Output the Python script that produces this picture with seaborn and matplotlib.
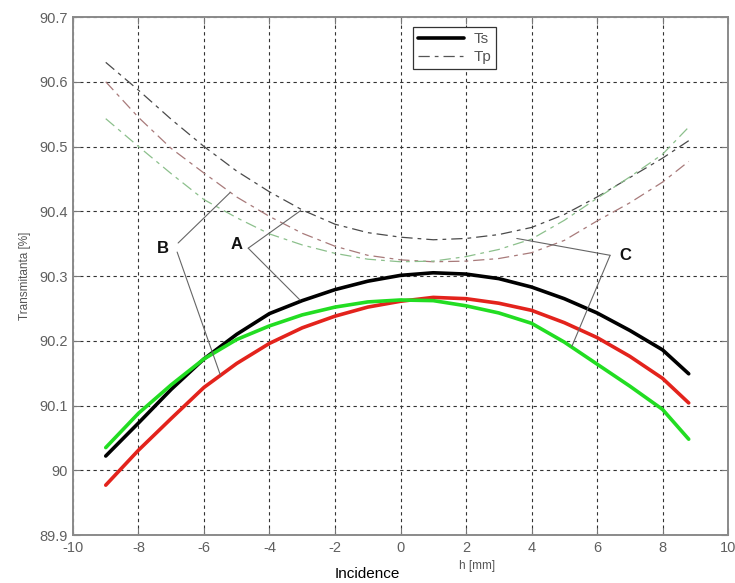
import matplotlib
matplotlib.use("Agg")
import matplotlib.pyplot as plt
from matplotlib.lines import Line2D
import seaborn as sns
import pandas as pd

# ---------------- data ----------------
h_mm = [-9, -8, -7, -6, -5, -4, -3, -2, -1, 0, 1, 2, 3, 4, 5, 6, 7, 8, 8.8]

ts_A = [90.022, 90.073, 90.125, 90.172, 90.210, 90.242, 90.262, 90.279, 90.292, 90.301,
        90.305, 90.303, 90.296, 90.283, 90.265, 90.243, 90.216, 90.186, 90.149]
ts_B = [89.977, 90.031, 90.080, 90.128, 90.165, 90.196, 90.220, 90.238, 90.252, 90.261,
        90.267, 90.265, 90.258, 90.247, 90.228, 90.205, 90.176, 90.142, 90.104]
ts_C = [90.035, 90.088, 90.132, 90.172, 90.202, 90.223, 90.240, 90.252, 90.260, 90.263,
        90.262, 90.254, 90.243, 90.227, 90.198, 90.164, 90.130, 90.094, 90.048]

tp_A = [90.630, 90.587, 90.542, 90.500, 90.462, 90.430, 90.402, 90.380, 90.367, 90.360,
        90.356, 90.358, 90.364, 90.375, 90.395, 90.422, 90.452, 90.482, 90.509]
tp_B = [90.600, 90.545, 90.497, 90.459, 90.422, 90.392, 90.366, 90.346, 90.332, 90.325,
        90.322, 90.323, 90.327, 90.336, 90.355, 90.385, 90.413, 90.445, 90.477]
tp_C = [90.543, 90.500, 90.458, 90.418, 90.390, 90.365, 90.348, 90.335, 90.326, 90.322,
        90.323, 90.330, 90.341, 90.357, 90.386, 90.420, 90.453, 90.488, 90.530]

x_ticks = [-10, -8, -6, -4, -2, 0, 2, 4, 6, 8, 10]
y_ticks = [89.9, 90.0, 90.1, 90.2, 90.3, 90.4, 90.5, 90.6, 90.7]
y_tick_labels = ["89.9", "90", "90.1", "90.2", "90.3", "90.4", "90.5", "90.6", "90.7"]

# ---------------- figure ----------------
sns.set_theme(style="white")
plt.rcParams['font.family'] = ['Liberation Sans', 'DejaVu Sans']

fig = plt.figure(figsize=(7.35, 5.83), dpi=100)
ax = fig.add_axes([0.0993, 0.0823, 0.8912, 0.8885])

solid = [(ts_A, "#000000"), (ts_B, "#e3231c"), (ts_C, "#22dd22")]
dashed = [(tp_A, "#4a4a4a"), (tp_B, "#a87a7a"), (tp_C, "#8cc08c")]

for vals, col in dashed:
    df = pd.DataFrame({"h": h_mm, "T": vals})
    sns.lineplot(data=df, x="h", y="T", ax=ax, color=col, linewidth=0.9,
                 linestyle=(0, (9, 4, 3, 4)), legend=False)
for vals, col in solid:
    df = pd.DataFrame({"h": h_mm, "T": vals})
    sns.lineplot(data=df, x="h", y="T", ax=ax, color=col, linewidth=2.6, legend=False,
                 solid_joinstyle="round", solid_capstyle="round")

ax.set_xlim(-10, 10)
ax.set_ylim(89.9, 90.7)
ax.set_xticks(x_ticks)
ax.set_xticklabels([str(t) for t in x_ticks])
ax.set_yticks(y_ticks)
ax.set_yticklabels(y_tick_labels)

ax.grid(True, color="#333333", linestyle=(0, (3, 3)), linewidth=0.8)
for s in ax.spines.values():
    s.set_color("#8a8a8a")
    s.set_linewidth(1.4)
ax.tick_params(axis="both", direction="in", length=5, width=0.8, color="#777777",
               labelcolor="#606060", labelsize=10.5, top=True, right=True,
               bottom=True, left=True, pad=4)

ax.set_xlabel("")
ax.set_ylabel("Transmitanta [%]", color="#555555", fontsize=8.5, labelpad=6)

fig.text(477 / 735, 1 - 566 / 583, "h [mm]", color="#555555", fontsize=8.5,
         ha="center", va="center")
fig.text(367 / 735, 1 - 574 / 583, "Incidence", color="#000000", fontsize=11,
         ha="center", va="center")

# ---------------- annotations ----------------
lead = dict(arrowstyle="-", color="#666666", lw=0.8, shrinkA=0, shrinkB=0)
ann = [
    ("A", (-4.99, 90.348), [((-4.65, 90.343), (-3.05, 90.401)),
                            ((-4.65, 90.343), (-3.07, 90.263))]),
    ("B", (-7.25, 90.343), [((-6.79, 90.351), (-5.20, 90.429)),
                            ((-6.82, 90.337), (-5.50, 90.147))]),
    ("C", (6.85, 90.332), [((6.40, 90.332), (3.55, 90.358)),
                           ((6.40, 90.332), (5.23, 90.191))]),
]
for letter, pos, legs in ann:
    ax.text(pos[0], pos[1], letter, fontsize=12, fontweight="bold", color="#111111",
            ha="center", va="center")
    for start, end in legs:
        ax.annotate("", xy=end, xytext=start, arrowprops=lead)

# ---------------- legend ----------------
handles = [Line2D([], [], color="black", lw=2.6),
           Line2D([], [], color="#555555", lw=0.9, linestyle=(0, (9, 4, 3, 4)))]
leg = ax.legend(handles, ["Ts", "Tp"], loc="upper left", bbox_to_anchor=(0.519, 0.981),
                fancybox=False, framealpha=1, edgecolor="#333333", fontsize=11,
                handlelength=3.0, borderpad=0.35, labelspacing=0.25, handletextpad=0.6,
                borderaxespad=0)
leg.get_frame().set_linewidth(0.9)
for t in leg.get_texts():
    t.set_color("#555555")

fig.savefig("out.png", dpi=100)
